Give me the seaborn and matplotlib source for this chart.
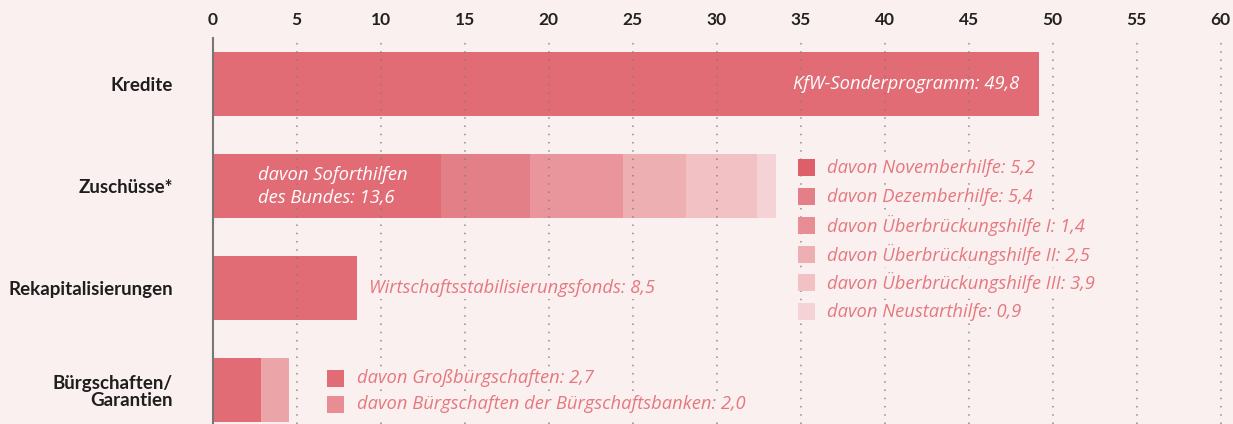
import matplotlib
matplotlib.use("Agg")
import matplotlib.pyplot as plt
from matplotlib.patches import Rectangle
import seaborn as sns
import pandas as pd
import numpy as np

# ---------------- data ----------------
categories = ["Kredite", "Zuschüsse*", "Rekapitalisierungen", "Bürgschaften/\nGarantien"]
kredite = [49.2]
zuschuesse = [13.6, 5.3, 5.5, 3.8, 4.2, 1.1]
rekap = [8.6]
buergschaften = [2.9, 1.65]
x_ticks = [0, 5, 10, 15, 20, 25, 30, 35, 40, 45, 50, 55, 60]

kredite_label = "KfW-Sonderprogramm: 49,8"
soforthilfe_label = "davon Soforthilfen\ndes Bundes: 13,6"
rekap_label = "Wirtschaftsstabilisierungsfonds: 8,5"
zuschuss_legend = ["davon Novemberhilfe: 5,2", "davon Dezemberhilfe: 5,4",
                   "davon Überbrückungshilfe I: 1,4", "davon Überbrückungshilfe II: 2,5",
                   "davon Überbrückungshilfe III: 3,9", "davon Neustarthilfe: 0,9"]
buerg_legend = ["davon Großbürgschaften: 2,7", "davon Bürgschaften der Bürgschaftsbanken: 2,0"]

# ---------------- styles ----------------
BG = "#fbf0f0"
MAIN = "#e16c76"
zuschuss_colors = [MAIN, "#e37f86", "#e9959b", "#eeafb3", "#f2c1c4", "#f5d2d5"]
zuschuss_legend_colors = ["#de5f6a", "#e37f86", "#e78d93", "#eeafb3", "#f2c1c4", "#f5d2d5"]
buerg_colors = [MAIN, "#eba4a8"]
buerg_legend_colors = [MAIN, "#e88d93"]
TEXT_PINK = "#e5787f"
IT_FONT = ["Open Sans", "DejaVu Sans"]
IT_SIZE = 13.2

sns.set_theme(style="white")
plt.rcParams["font.family"] = ["Lato", "DejaVu Sans"]

stacks = {
    categories[0]: (kredite, [MAIN]),
    categories[1]: (zuschuesse, zuschuss_colors),
    categories[2]: (rekap, [MAIN]),
    categories[3]: (buergschaften, buerg_colors),
}

rows = []
for cat, (vals, cols) in stacks.items():
    cum = np.cumsum(vals)
    for lvl, (c, col) in enumerate(zip(cum, cols)):
        rows.append({"cat": cat, "level": lvl, "cum": c, "color": col})
df = pd.DataFrame(rows)

W, H = 1233, 424
fig = plt.figure(figsize=(W / 100, H / 100), dpi=100, facecolor=BG)
px_per_unit = 16.8
x0 = 212.7
ax = fig.add_axes([x0 / W, 0, 60.5 * px_per_unit / W, (H - 38) / H])
ax.set_facecolor(BG)

# draw stacks from outermost level to innermost
for lvl in sorted(df["level"].unique(), reverse=True):
    sub = df[df["level"] == lvl]
    pal = dict(zip(sub["cat"], sub["color"]))
    sns.barplot(data=sub, x="cum", y="cat", hue="cat", palette=pal, order=categories,
                hue_order=list(sub["cat"]), orient="h", width=0.63, saturation=1,
                legend=False, ax=ax, linewidth=0)

ax.set_xlim(0, 60.5)
ax.set_ylim(3.33, -0.45)
ax.set_xlabel("")
ax.set_ylabel("")

# axes / ticks
ax.xaxis.tick_top()
ax.set_xticks(x_ticks)
ax.set_xticklabels([str(t) for t in x_ticks], fontsize=12.5, fontweight="bold", color="#222222")
ax.tick_params(axis="x", length=0, pad=7)
ax.tick_params(axis="y", length=0, pad=28.5)
for lab in ax.get_yticklabels():
    lab.set_fontsize(13.5)
    lab.set_fontweight("bold")
    lab.set_color("#1e1e1e")
    lab.set_linespacing(1.0)
for s in ["top", "right", "bottom"]:
    ax.spines[s].set_visible(False)
ax.spines["left"].set_color("#777777")
ax.spines["left"].set_linewidth(1.5)
ax.spines["left"].set_zorder(4)

ax.set_axisbelow(False)
ax.grid(axis="x", linestyle=(0, (1, 4.4)), color="#7d7d7d", linewidth=1.1, alpha=0.85)
ax.grid(axis="y", visible=False)

box = dict(boxstyle="square,pad=0.12", fc=BG, ec="none")

# bar labels
ax.text(kredite[0] - 1.2, 0, kredite_label, ha="right", va="center", color="white",
        fontsize=IT_SIZE, style="italic", family=IT_FONT, zorder=5)
ax.text(2.7, 1.0, soforthilfe_label, ha="left", va="center", color="white",
        fontsize=IT_SIZE, style="italic", family=IT_FONT, zorder=5, linespacing=1.35)
ax.text(rekap[0] + 0.7, 2.0, rekap_label, ha="left", va="center", color=TEXT_PINK,
        fontsize=IT_SIZE, style="italic", family=IT_FONT, zorder=5, bbox=box)

# Zuschüsse legend
sw_w = 17 / px_per_unit
sw_h = 17 / 102.3
for i, (lab, col) in enumerate(zip(zuschuss_legend, zuschuss_legend_colors)):
    y = 0.821 + i * 0.2815
    ax.add_patch(Rectangle((34.85, y - sw_h / 2), sw_w, sw_h, facecolor=col,
                           edgecolor="none", zorder=5))
    ax.text(36.55, y, lab, ha="left", va="center", color=TEXT_PINK, fontsize=IT_SIZE,
            style="italic", family=IT_FONT, zorder=5, bbox=box)

# Bürgschaften legend
for i, (lab, col) in enumerate(zip(buerg_legend, buerg_legend_colors)):
    y = 2.88 + i * 0.259
    ax.add_patch(Rectangle((6.83, y - sw_h / 2), sw_w, sw_h, facecolor=col,
                           edgecolor="none", zorder=5))
    ax.text(8.6, y, lab, ha="left", va="center", color=TEXT_PINK, fontsize=IT_SIZE,
            style="italic", family=IT_FONT, zorder=5, bbox=box)

fig.savefig("out.png", dpi=100, facecolor=BG)
